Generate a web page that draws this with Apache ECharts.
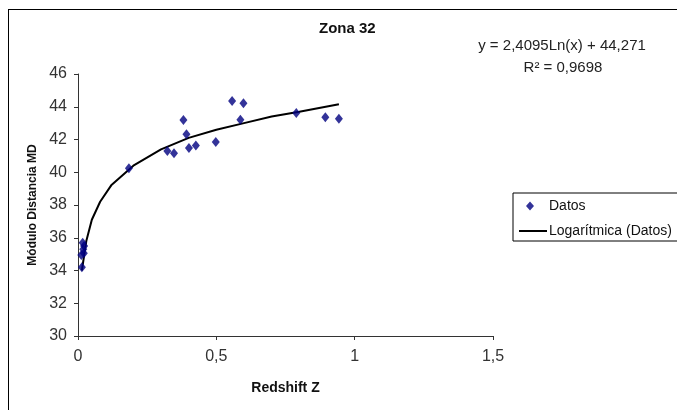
<!DOCTYPE html>
<html>
<head>
<meta charset="utf-8">
<script src="https://cdn.jsdelivr.net/npm/echarts@6/dist/echarts.min.js"></script>
<style>
html,body{margin:0;padding:0;background:#fff;}
#chart{width:677px;height:410px;}
</style>
</head>
<body>
<div id="chart"></div>
<script>
// Data points (Redshift Z, Módulo Distancia MD)
var zVals  = [0.014, 0.012, 0.021, 0.019, 0.022, 0.017, 0.184, 0.323, 0.347, 0.381, 0.392, 0.401, 0.426, 0.498, 0.557, 0.598, 0.587, 0.789, 0.894, 0.943];
var mdVals = [34.2, 34.95, 35.05, 35.3, 35.5, 35.7, 40.24, 41.3, 41.16, 43.19, 42.32, 41.48, 41.64, 41.85, 44.35, 44.21, 43.21, 43.62, 43.36, 43.27];
// Trend line
var trendZ  = [0.014, 0.03, 0.05, 0.08, 0.12, 0.2, 0.3, 0.4, 0.5, 0.6, 0.7, 0.8, 0.943];
var trendMD = [34.0, 35.8, 37.1, 38.2, 39.2, 40.4, 41.4, 42.1, 42.6, 43.0, 43.4, 43.7, 44.15];
var yTicks = [30, 46, 2];
var xTicks = [0, 1.5, 0.5];

var FONT = '"Liberation Sans", Arial, sans-serif';

var scatterData = zVals.map(function (z, i) { return [z, mdVals[i]]; });
var trendData = trendZ.map(function (z, i) { return [z, trendMD[i]]; });

var chart = echarts.init(document.getElementById('chart'), null, {renderer: 'canvas'});
chart.setOption({
  backgroundColor: '#fff',
  animation: false,
  title: {
    text: 'Zona 32',
    left: 314, top: 16,
    textStyle: {fontFamily: FONT, fontWeight: 'bold', fontSize: 15, color: '#111'}
  },
  grid: {left: 78, right: 184, top: 74, bottom: 74, containLabel: false},
  xAxis: {
    type: 'value', min: xTicks[0], max: xTicks[1], interval: xTicks[2],
    name: 'Redshift Z', nameLocation: 'middle', nameGap: 45,
    nameTextStyle: {fontFamily: FONT, fontWeight: 'bold', fontSize: 14, color: '#111'},
    axisLine: {onZero: false, lineStyle: {color: '#333', width: 1}},
    axisTick: {show: true, length: 4, inside: false, lineStyle: {color: '#333'}},
    axisLabel: {margin: 13, fontFamily: FONT, fontSize: 16, color: '#333',
      formatter: function (v) { return String(v).replace('.', ','); }},
    splitLine: {show: false}
  },
  yAxis: {
    type: 'value', min: yTicks[0], max: yTicks[1], interval: yTicks[2],
    name: 'Módulo Distancia MD', nameLocation: 'middle', nameGap: 38, nameRotate: 90,
    nameTextStyle: {fontFamily: FONT, fontWeight: 'bold', fontSize: 12, color: '#111'},
    axisLine: {show: true, onZero: false, lineStyle: {color: '#333', width: 1}},
    axisTick: {show: true, length: 4, inside: false, lineStyle: {color: '#333'}},
    axisLabel: {margin: 11, fontFamily: FONT, fontSize: 16, color: '#333'},
    splitLine: {show: false}
  },
  legend: {
    orient: 'vertical', left: 513, top: 193,
    padding: [6, 40, 3, 6], itemGap: 11, itemWidth: 28, itemHeight: 14,
    borderColor: '#000', borderWidth: 1, backgroundColor: '#fff',
    textStyle: {fontFamily: FONT, fontSize: 14, color: '#111', padding: [0, 0, 0, -3]},
    data: [
      {name: 'Datos', icon: 'path://M0,0L0.01,0L0,0.01Z M28,14L27.99,14L28,13.99Z M11,2.5L15,7L11,11.5L7,7Z'},
      {name: 'Logarítmica (Datos)', icon: 'path://M0,0L0.01,0L0,0.01Z M28,14L27.99,14L28,13.99Z M0,6L28,6L28,8L0,8Z'}
    ]
  },
  graphic: [
    {type: 'rect', silent: true, z: 100,
      shape: {x: 8, y: 9, width: 669, height: 1}, style: {fill: '#000'}},
    {type: 'rect', silent: true, z: 100,
      shape: {x: 8, y: 9, width: 1, height: 401}, style: {fill: '#000'}},
    {type: 'text', x: 562, y: 38, silent: true,
      style: {text: 'y = 2,4095Ln(x) + 44,271', fontFamily: FONT, fontSize: 15, fill: '#222', textAlign: 'center'}},
    {type: 'text', x: 563, y: 60, silent: true,
      style: {text: 'R² = 0,9698', fontFamily: FONT, fontSize: 15, fill: '#222', textAlign: 'center'}}
  ],
  series: [
    {
      name: 'Datos', type: 'scatter', data: scatterData,
      symbol: 'diamond', symbolSize: [8, 10],
      itemStyle: {color: '#000080'}, z: 3
    },
    {
      name: 'Logarítmica (Datos)', type: 'line', data: trendData,
      symbol: 'none', smooth: false,
      lineStyle: {color: '#000', width: 2},
      itemStyle: {color: '#000'}, z: 2
    }
  ]
});
</script>
</body>
</html>
